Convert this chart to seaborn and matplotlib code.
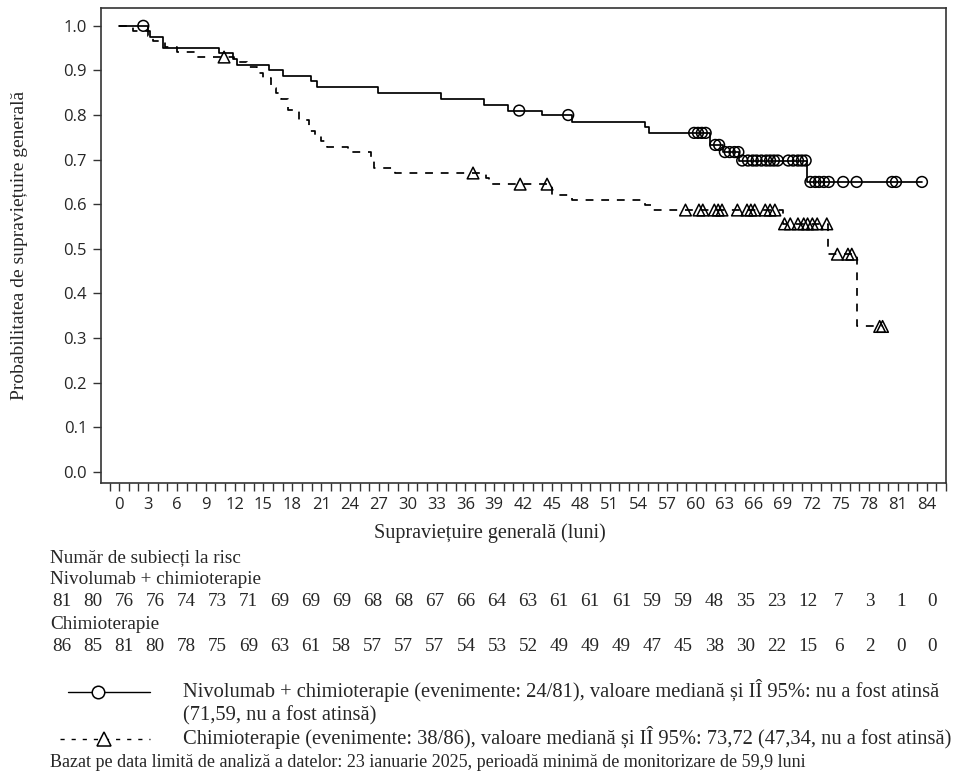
import numpy as np
import pandas as pd
import matplotlib
matplotlib.use("Agg")
import matplotlib.pyplot as plt
from matplotlib.lines import Line2D
from matplotlib.ticker import MultipleLocator
import seaborn as sns

# Kaplan-Meier steps (months, survival probability)
nivo_time = [0, 3.0, 3.2, 4.6, 10.4, 11.8, 12.2, 15.6, 17.0, 19.9, 20.6, 26.9,
             33.5, 37.9, 40.4, 44.0, 47.1, 54.7, 55.1, 61.4, 62.8, 64.5, 71.5, 83.5]
nivo_surv = [1.0, 0.988, 0.975, 0.951, 0.939, 0.926, 0.913, 0.900, 0.888, 0.876,
             0.862, 0.850, 0.836, 0.823, 0.810, 0.800, 0.785, 0.773, 0.760, 0.733,
             0.717, 0.698, 0.650, 0.650]

chemo_time = [0, 1.4, 3.0, 3.5, 4.8, 6.0, 8.1, 11.9, 13.3, 14.3, 15.0, 15.8, 16.3,
              16.8, 17.6, 18.7, 19.7, 20.4, 21.0, 21.6, 23.8, 26.2, 26.5, 28.7,
              38.1, 38.5, 45.0, 47.1, 54.7, 55.5, 69.0, 73.7, 76.7, 79.4]
chemo_surv = [1.0, 0.988, 0.977, 0.965, 0.953, 0.942, 0.930, 0.919, 0.907, 0.895,
              0.884, 0.860, 0.849, 0.837, 0.812, 0.789, 0.765, 0.752, 0.741, 0.729,
              0.718, 0.706, 0.682, 0.670, 0.658, 0.645, 0.621, 0.610, 0.599, 0.587,
              0.556, 0.488, 0.326, 0.326]

# censored subjects (months)
nivo_cens = [2.5, 41.6, 46.7, 59.8, 60.2, 60.6, 61.0, 62.0, 62.4, 63.0, 63.5, 64.0,
             64.4, 64.8, 65.4, 65.9, 66.3, 66.8, 67.3, 67.7, 68.1, 68.5, 69.6, 70.1,
             70.6, 71.0, 71.4, 71.9, 72.4, 72.8, 73.3, 73.8, 75.3, 76.7, 80.4, 80.8,
             83.5]
chemo_cens = [10.9, 36.8, 41.7, 44.5, 58.9, 60.3, 60.7, 61.9, 62.3, 62.7, 64.3, 65.3,
              65.7, 66.1, 67.2, 67.7, 68.2, 69.2, 69.8, 70.6, 71.2, 71.6, 72.1, 72.6,
              73.6, 74.7, 75.8, 76.2, 79.1, 79.4]

# number at risk
risk_months = list(range(0, 85, 3))
nivo_risk = [81, 80, 76, 76, 74, 73, 71, 69, 69, 69, 68, 68, 67, 66, 64, 63, 61, 61,
             61, 59, 59, 48, 35, 23, 12, 7, 3, 1, 0]
chemo_risk = [86, 85, 81, 80, 78, 75, 69, 63, 61, 58, 57, 57, 57, 54, 53, 52, 49, 49,
              49, 47, 45, 38, 30, 22, 15, 6, 2, 0, 0]

arm_nivo = "Nivolumab + chimioterapie"
arm_chemo = "Chimioterapie"

steps = pd.concat([
    pd.DataFrame({"time": nivo_time, "surv": nivo_surv, "arm": arm_nivo}),
    pd.DataFrame({"time": chemo_time, "surv": chemo_surv, "arm": arm_chemo}),
])


def surv_at(times, surv, t):
    idx = np.searchsorted(times, t, side="right") - 1
    return np.asarray(surv)[idx]


cens_nivo = pd.DataFrame({"time": nivo_cens,
                          "surv": surv_at(nivo_time, nivo_surv, nivo_cens)})
cens_chemo = pd.DataFrame({"time": chemo_cens,
                           "surv": surv_at(chemo_time, chemo_surv, chemo_cens)})

sns.set_style("ticks")
serif = ["Liberation Serif", "DejaVu Serif"]
sans = ["Open Sans", "DejaVu Sans"]
plt.rcParams["font.family"] = sans

W, H = 963, 779
fig = plt.figure(figsize=(W / 100, H / 100), dpi=100)
ax = fig.add_axes([101 / W, 1 - 483 / H, 845 / W, 475 / H])

sns.lineplot(data=steps, x="time", y="surv", hue="arm", style="arm",
             palette={arm_nivo: "black", arm_chemo: "black"},
             dashes={arm_nivo: "", arm_chemo: (4.5, 4.5)},
             drawstyle="steps-post", estimator=None, sort=False,
             linewidth=1.25, legend=False, ax=ax)

sns.scatterplot(data=cens_nivo, x="time", y="surv", marker="o", s=60,
                color="black", linewidth=1.1, legend=False, ax=ax)
ax.collections[-1].set_facecolor("none")
ax.collections[-1].set_edgecolor("black")
sns.scatterplot(data=cens_chemo, x="time", y="surv", marker="^", s=70,
                color="black", linewidth=1.1, legend=False, ax=ax)
ax.collections[-1].set_facecolor("none")
ax.collections[-1].set_edgecolor("black")

ax.set_xlim(-1.9, 86)
ax.set_ylim(-0.025, 1.04)
ax.xaxis.set_major_locator(MultipleLocator(3))
ax.xaxis.set_minor_locator(MultipleLocator(1))
ax.yaxis.set_major_locator(MultipleLocator(0.1))
ax.set_xticks(risk_months)
ax.set_yticklabels([f"{v:.1f}" for v in ax.get_yticks()])
ax.tick_params(axis="both", which="both", length=6, width=1.0, color="#333333",
               labelsize=12, pad=4)
for sp in ax.spines.values():
    sp.set_visible(True)
    sp.set_color("#333333")
    sp.set_linewidth(1.2)

ax.set_xlabel("Supraviețuire generală (luni)", family=serif, fontsize=14.5)
ax.xaxis.label.set_va("center")
ax.xaxis.set_label_coords(0.46, (483 - 533) / 475)
ax.set_ylabel("Probabilitatea de supraviețuire generală", family=serif, fontsize=14)
ax.yaxis.label.set_va("center")
ax.yaxis.set_label_coords((20 - 101) / 845, 0.5)


def fx(px):
    return px / W


def fy(py):
    return 1 - py / H


# number-at-risk table
tsize = 13.8
fig.text(fx(50), fy(562), "Număr de subiecți la risc", family=serif, fontsize=tsize,
         va="baseline")
fig.text(fx(50), fy(584), arm_nivo, family=serif, fontsize=tsize, va="baseline")
fig.text(fx(50), fy(629), arm_chemo, family=serif, fontsize=tsize, va="baseline")
col_x = np.linspace(62, 932, len(risk_months))
for i, (a, b) in enumerate(zip(nivo_risk, chemo_risk)):
    fig.text(fx(col_x[i]), fy(606), str(a), family=serif, fontsize=tsize,
             ha="center", va="baseline")
    fig.text(fx(col_x[i]), fy(651), str(b), family=serif, fontsize=tsize,
             ha="center", va="baseline")

# legend drawn by hand under the table
fig.add_artist(Line2D([fx(68), fx(150)], [fy(692), fy(692)], color="black", lw=1.0))
fig.add_artist(Line2D([fx(98)], [fy(692)], marker="o", ms=9, mfc="white",
                      mec="black", mew=1.1, color="black"))
fig.add_artist(Line2D([fx(60), fx(150)], [fy(739), fy(739)], color="black", lw=1.0,
                      linestyle=(0, (3, 5))))
fig.add_artist(Line2D([fx(104)], [fy(739)], marker="^", ms=10, mfc="white",
                      mec="black", mew=1.1, color="black"))
lsize = 14.8
fig.text(fx(183), fy(697),
         "Nivolumab + chimioterapie (evenimente: 24/81), valoare mediană și IÎ 95%: "
         "nu a fost atinsă", family=serif, fontsize=lsize, va="baseline")
fig.text(fx(183), fy(720), "(71,59, nu a fost atinsă)", family=serif, fontsize=lsize,
         va="baseline")
fig.text(fx(183), fy(744),
         "Chimioterapie (evenimente: 38/86), valoare mediană și IÎ 95%: 73,72 "
         "(47,34, nu a fost atinsă)", family=serif, fontsize=lsize, va="baseline")
fig.text(fx(50), fy(767),
         "Bazat pe data limită de analiză a datelor: 23 ianuarie 2025, perioadă minimă "
         "de monitorizare de 59,9 luni", family=serif, fontsize=13, va="baseline")

fig.savefig("out.png", dpi=100)
